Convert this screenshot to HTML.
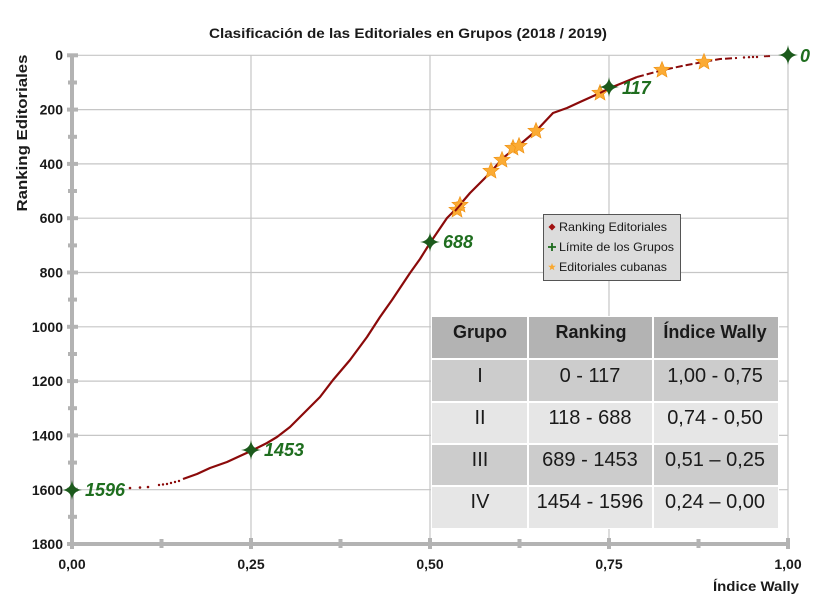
<!DOCTYPE html>
<html>
<head>
<meta charset="utf-8">
<style>
html,body{margin:0;padding:0;background:#fff;}
svg{display:block;}
text{font-family:"Liberation Sans",Arial,sans-serif;}
</style>
</head>
<body>
<svg width="819" height="610" viewBox="0 0 819 610" xmlns="http://www.w3.org/2000/svg">
<rect width="819" height="610" fill="#fff"/>
<!-- title -->
<text x="408" y="38" font-size="14" font-weight="bold" text-anchor="middle" fill="#1a1a1a" textLength="398" lengthAdjust="spacingAndGlyphs">Clasificación de las Editoriales en Grupos (2018 / 2019)</text>
<!-- y axis title -->
<text transform="translate(27,133) rotate(-90)" font-size="15" font-weight="bold" text-anchor="middle" fill="#1a1a1a" textLength="157" lengthAdjust="spacingAndGlyphs">Ranking Editoriales</text>

<!-- grid -->
<g stroke="#c6c6c6" stroke-width="1.2">
<line x1="72" y1="55.3" x2="788" y2="55.3"/>
<line x1="72" y1="109.6" x2="788" y2="109.6"/>
<line x1="72" y1="163.9" x2="788" y2="163.9"/>
<line x1="72" y1="218.2" x2="788" y2="218.2"/>
<line x1="72" y1="272.5" x2="788" y2="272.5"/>
<line x1="72" y1="326.8" x2="788" y2="326.8"/>
<line x1="72" y1="381.1" x2="788" y2="381.1"/>
<line x1="72" y1="435.4" x2="788" y2="435.4"/>
<line x1="72" y1="489.7" x2="788" y2="489.7"/>
<line x1="251" y1="55" x2="251" y2="544"/>
<line x1="430" y1="55" x2="430" y2="544"/>
<line x1="609" y1="55" x2="609" y2="544"/>
<line x1="788" y1="55" x2="788" y2="544"/>
</g>

<!-- axes -->
<g fill="#b3b3b3">
<rect x="70" y="54" width="4" height="492"/>
<rect x="70" y="542" width="720" height="4"/>
<!-- y ticks -->
<rect x="67" y="53.3" width="11" height="4"/>
<rect x="68" y="80.5" width="9" height="4"/>
<rect x="67" y="107.6" width="11" height="4"/>
<rect x="68" y="134.8" width="9" height="4"/>
<rect x="67" y="161.9" width="11" height="4"/>
<rect x="68" y="189" width="9" height="4"/>
<rect x="67" y="216.2" width="11" height="4"/>
<rect x="68" y="243.4" width="9" height="4"/>
<rect x="67" y="270.5" width="11" height="4"/>
<rect x="68" y="297.6" width="9" height="4"/>
<rect x="67" y="324.8" width="11" height="4"/>
<rect x="68" y="352" width="9" height="4"/>
<rect x="67" y="379.1" width="11" height="4"/>
<rect x="68" y="406.2" width="9" height="4"/>
<rect x="67" y="433.4" width="11" height="4"/>
<rect x="68" y="460.6" width="9" height="4"/>
<rect x="67" y="487.7" width="11" height="4"/>
<rect x="68" y="514.8" width="9" height="4"/>
<rect x="67" y="542" width="11" height="4"/>
<!-- x ticks -->
<rect x="70" y="538" width="4" height="11"/>
<rect x="159.5" y="539" width="4" height="9"/>
<rect x="249" y="538" width="4" height="11"/>
<rect x="338.5" y="539" width="4" height="9"/>
<rect x="428" y="538" width="4" height="11"/>
<rect x="517.5" y="539" width="4" height="9"/>
<rect x="607" y="538" width="4" height="11"/>
<rect x="696.5" y="539" width="4" height="9"/>
<rect x="786" y="538" width="4" height="11"/>
</g>

<!-- y labels -->
<g font-size="14" font-weight="bold" fill="#1a1a1a" text-anchor="end">
<text x="63" y="60">0</text>
<text x="63" y="114.5">200</text>
<text x="63" y="169">400</text>
<text x="63" y="223">600</text>
<text x="63" y="277.5">800</text>
<text x="63" y="332">1000</text>
<text x="63" y="386">1200</text>
<text x="63" y="440.5">1400</text>
<text x="63" y="495">1600</text>
<text x="63" y="549">1800</text>
</g>
<!-- x labels -->
<g font-size="14" font-weight="bold" fill="#1a1a1a" text-anchor="middle">
<text x="72" y="569">0,00</text>
<text x="251" y="569">0,25</text>
<text x="430" y="569">0,50</text>
<text x="609" y="569">0,75</text>
<text x="788" y="569">1,00</text>
</g>
<text x="799" y="591" font-size="14" font-weight="bold" fill="#1a1a1a" text-anchor="end" textLength="86" lengthAdjust="spacingAndGlyphs">Índice Wally</text>

<!-- curve -->
<g fill="#8b0a0a">
<circle cx="130" cy="488" r="1.3"/>
<circle cx="140" cy="487.5" r="1.3"/>
<circle cx="148" cy="487" r="1.3"/>
<circle cx="159" cy="485" r="1.2"/>
<circle cx="163" cy="484.5" r="1.2"/>
<circle cx="167" cy="484" r="1.2"/>
<circle cx="171" cy="483" r="1.2"/>
<circle cx="175" cy="482" r="1.2"/>
<circle cx="179" cy="481" r="1.2"/>
<circle cx="744" cy="57.5" r="1.2"/>
<circle cx="749" cy="57.2" r="1.2"/>
<circle cx="753" cy="57" r="1.2"/>
<circle cx="757" cy="57" r="1.2"/>
<circle cx="765" cy="56.3" r="1.1"/>
<circle cx="767" cy="56.2" r="1.1"/>
<circle cx="769" cy="56.1" r="1.1"/>
</g>
<path d="M183,479 L197,474 L210,468 L227,462 L240,456 L251,451 L267,443 L277,437 L290,427 L307,410 L320,397 L333,380 L350,360 L367,337 L380,317 L392,300 L410,273 L420,259 L430,243 L447,218 L458,207 L470,193 L490,173 L503,158 L517,147 L537,130 L553,113 L567,108 L580,102 L600,93 L610,88 L637,77" fill="none" stroke="#8b0a0a" stroke-width="2.2" stroke-linejoin="round"/>
<path d="M637,77 L663,70 L687,65 L703,62 L720,59 L737,58" fill="none" stroke="#8b0a0a" stroke-width="2" stroke-dasharray="7,3"/>

<!-- stars -->
<defs>
<path id="st" d="M0,-8.5 L2.2,-3 L8.1,-2.6 L3.6,1.2 L5,7 L0,3.9 L-5,7 L-3.6,1.2 L-8.1,-2.6 L-2.2,-3 Z"/>
<path id="sp" d="M0,-10 Q1,-1 10,0 Q1,1 0,10 Q-1,1 -10,0 Q-1,-1 0,-10 Z"/>
</defs>
<g fill="#fbab34" stroke="#ef9010" stroke-width="0.6">
<use href="#st" x="457" y="210"/>
<use href="#st" x="460" y="205"/>
<use href="#st" x="491" y="171"/>
<use href="#st" x="502" y="160"/>
<use href="#st" x="513" y="148"/>
<use href="#st" x="519" y="146"/>
<use href="#st" x="536" y="131"/>
<use href="#st" x="600" y="93"/>
<use href="#st" x="662" y="70"/>
<use href="#st" x="704" y="62"/>
</g>
<path d="M600,93 L610,88" stroke="#8b0a0a" stroke-width="2"/>
<path d="M455,211 L462,203" stroke="#8b0a0a" stroke-width="2"/>

<!-- group limits -->
<g fill="#1c5a1c">
<use href="#sp" x="72" y="490"/>
<use href="#sp" x="251" y="450"/>
<use href="#sp" x="430" y="242"/>
<use href="#sp" x="609" y="87"/>
<use href="#sp" x="788" y="55"/>
</g>
<g font-size="18" font-weight="bold" font-style="italic" fill="#1f6e1f">
<text x="85" y="496">1596</text>
<text x="264" y="456">1453</text>
<text x="443" y="248">688</text>
<text x="622" y="94">117</text>
<text x="800" y="62">0</text>
</g>

<!-- legend -->
<rect x="543.5" y="214.5" width="137" height="66" fill="#dcdcdc" stroke="#555" stroke-width="1"/>
<path d="M552,223.5 L555.5,227 L552,230.5 L548.5,227 Z" fill="#a01010"/>
<path d="M552,243 L552,251 M548,247 L556,247" stroke="#1c6a1c" stroke-width="1.8"/>
<path d="M552,263 L553,265.7 L555.8,265.8 L553.6,267.6 L554.4,270.3 L552,268.7 L549.6,270.3 L550.4,267.6 L548.2,265.8 L551,265.7 Z" fill="#f9a830"/>
<g font-size="12" fill="#1a1a1a">
<text x="559" y="231" textLength="108" lengthAdjust="spacingAndGlyphs">Ranking Editoriales</text>
<text x="559" y="251" textLength="115" lengthAdjust="spacingAndGlyphs">Límite de los Grupos</text>
<text x="559" y="271" textLength="108" lengthAdjust="spacingAndGlyphs">Editoriales cubanas</text>
</g>

<!-- table -->
<rect x="431" y="316" width="348" height="213" fill="#ffffff"/>
<g>
<rect x="432" y="317" width="95" height="41" fill="#b3b3b3"/>
<rect x="529" y="317" width="123" height="41" fill="#b3b3b3"/>
<rect x="654" y="317" width="124" height="41" fill="#b3b3b3"/>

<rect x="432" y="360" width="95" height="41" fill="#cccccc"/>
<rect x="529" y="360" width="123" height="41" fill="#cccccc"/>
<rect x="654" y="360" width="124" height="41" fill="#cccccc"/>

<rect x="432" y="403" width="95" height="40" fill="#e6e6e6"/>
<rect x="529" y="403" width="123" height="40" fill="#e6e6e6"/>
<rect x="654" y="403" width="124" height="40" fill="#e6e6e6"/>

<rect x="432" y="445" width="95" height="40" fill="#cccccc"/>
<rect x="529" y="445" width="123" height="40" fill="#cccccc"/>
<rect x="654" y="445" width="124" height="40" fill="#cccccc"/>

<rect x="432" y="487" width="95" height="41" fill="#e6e6e6"/>
<rect x="529" y="487" width="123" height="41" fill="#e6e6e6"/>
<rect x="654" y="487" width="124" height="41" fill="#e6e6e6"/>
</g>
<g font-size="18" font-weight="bold" fill="#1a1a1a" text-anchor="middle">
<text x="480" y="338">Grupo</text>
<text x="591" y="338">Ranking</text>
<text x="715" y="338">Índice Wally</text>
</g>
<g font-size="20" fill="#1a1a1a" text-anchor="middle">
<text x="480" y="382">I</text>
<text x="590" y="382">0 - 117</text>
<text x="715" y="382">1,00 - 0,75</text>
<text x="480" y="424">II</text>
<text x="590" y="424">118 - 688</text>
<text x="715" y="424">0,74 - 0,50</text>
<text x="480" y="466">III</text>
<text x="590" y="466">689 - 1453</text>
<text x="715" y="466">0,51 – 0,25</text>
<text x="480" y="508">IV</text>
<text x="590" y="508">1454 - 1596</text>
<text x="715" y="508">0,24 – 0,00</text>
</g>
</svg>
</body>
</html>
